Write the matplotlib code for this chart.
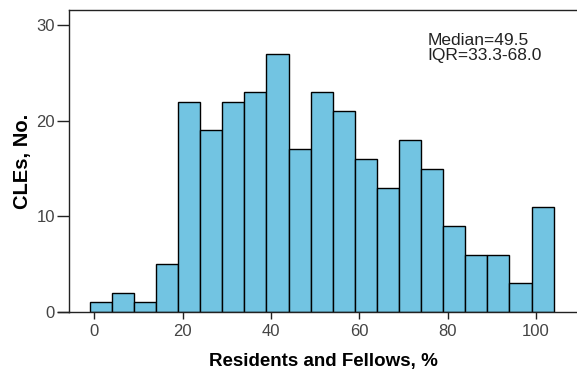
import matplotlib.pyplot as plt
import numpy as np

# counts per 5-point bin (SPSS style histogram)
counts = [1, 2, 1, 5, 22, 19, 22, 23, 27, 17, 23, 21, 16, 13, 18, 15, 9, 6, 6, 3, 11]
bin_start = -1.0
bin_width = 5.0
x_ticks = [0, 20, 40, 60, 80, 100]
y_ticks = [0, 10, 20, 30]
stats_text = 'Median=49.5\nIQR=33.3-68.0'

plt.rcParams['font.family'] = ['Liberation Sans', 'DejaVu Sans']

fig = plt.figure(figsize=(5.77, 3.71), dpi=100)
ax = fig.add_axes([69/577, 59/371, 1 - 69/577, 302/371])

edges = bin_start + bin_width * np.arange(len(counts))
ax.bar(edges, counts, width=bin_width, align='edge',
       color='#72c4e2', edgecolor='black', linewidth=1.0, zorder=2)

ax.set_xlim(-5.7, 109.3)
ax.set_ylim(0, 31.57)
ax.set_xticks(x_ticks)
ax.set_yticks(y_ticks)

ax.spines['right'].set_visible(False)
for s in ['left', 'top', 'bottom']:
    ax.spines[s].set_color('#222222')
    ax.spines[s].set_linewidth(1.0)

# x axis line runs a bit past the y axis, as in SPSS
ax.plot([-0.022, 0], [0, 0], transform=ax.transAxes, color='#222222',
        lw=1.0, clip_on=False)

ax.tick_params(axis='x', direction='out', length=5, width=1.0, colors='#222222',
               labelcolor='#444444', labelsize=12, pad=4)
ax.tick_params(axis='y', direction='out', length=9, width=1.0, colors='#222222',
               labelcolor='#444444', labelsize=12, pad=1)

ax.set_xlabel('Residents and Fellows, %', fontsize=13.5, fontweight='bold', labelpad=10)
ax.set_ylabel('CLEs, No.', fontsize=14.5, fontweight='bold', labelpad=3)

ax.text(0.705, 0.925, stats_text, transform=ax.transAxes, fontsize=12.5,
        color='#222222', va='top', ha='left', linespacing=1.0)

fig.savefig('out.png', dpi=100)
